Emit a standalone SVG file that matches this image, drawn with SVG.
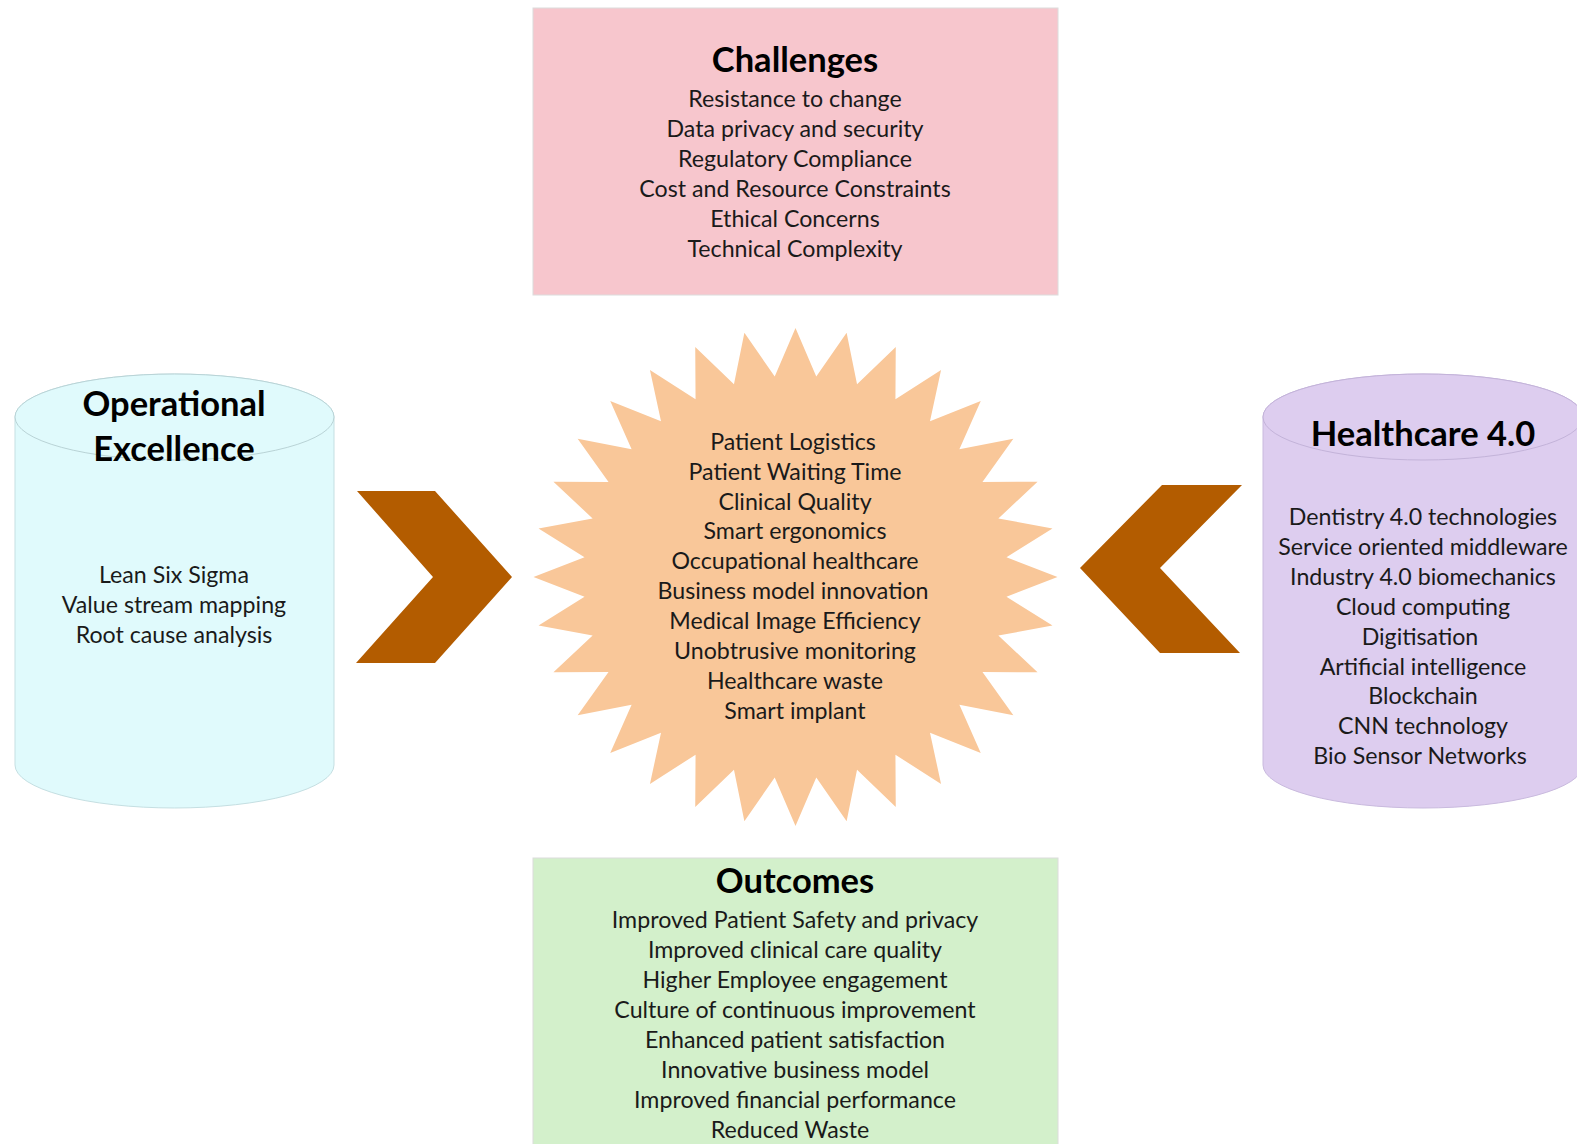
<svg xmlns="http://www.w3.org/2000/svg" width="1577" height="1144" viewBox="0 0 1577 1144">
<style>
.t{font-family:Lato,"Liberation Sans",sans-serif;font-size:23.2px;fill:#1a1a1a;text-anchor:middle}
.h{font-family:Lato,"Liberation Sans",sans-serif;font-size:34.5px;font-weight:bold;fill:#000;text-anchor:middle}
.chev{fill:#b35c00}
</style>
<rect width="1577" height="1144" fill="#ffffff"/>
<g id="challenges">
<rect x="533" y="8" width="525" height="287" fill="#f7c6cd" stroke="#dcdcdc" stroke-width="1"/>
<text class="h" x="795" y="72">Challenges</text>
<text class="t" x="795" y="107">Resistance to change</text>
<text class="t" x="795" y="137">Data privacy and security</text>
<text class="t" x="795" y="167">Regulatory Compliance</text>
<text class="t" x="795" y="197">Cost and Resource Constraints</text>
<text class="t" x="795" y="227">Ethical Concerns</text>
<text class="t" x="795" y="257">Technical Complexity</text>
</g>
<g id="operational-excellence">
<path d="M15 417 V765 A159.5 43 0 0 0 334 765 V417 A159.5 43 0 0 0 15 417 Z" fill="#e0fafc" stroke="#c5dfe2" stroke-width="1"/>
<ellipse cx="174.5" cy="417" rx="159.5" ry="43" fill="#e0fafc" stroke="#b9d3d6" stroke-width="1"/>
<text class="h" x="174" y="416">Operational</text>
<text class="h" x="174" y="461">Excellence</text>
<text class="t" x="174" y="583">Lean Six Sigma</text>
<text class="t" x="174" y="613">Value stream mapping</text>
<text class="t" x="174" y="643">Root cause analysis</text>
</g>
<g id="healthcare-4">
<path d="M1263 417 V765 A160 43 0 0 0 1583 765 V417 A160 43 0 0 0 1263 417 Z" fill="#ddcdef" stroke="#c9bade" stroke-width="1"/>
<ellipse cx="1423" cy="417" rx="160" ry="43" fill="#ddcdef" stroke="#c3b3d9" stroke-width="1"/>
<text class="h" x="1423" y="446">Healthcare 4.0</text>
<text class="t" x="1423" y="525">Dentistry 4.0 technologies</text>
<text class="t" x="1423" y="554.9">Service oriented middleware</text>
<text class="t" x="1423" y="584.8">Industry 4.0 biomechanics</text>
<text class="t" x="1423" y="614.7">Cloud computing</text>
<text class="t" x="1420" y="644.6">Digitisation</text>
<text class="t" x="1423" y="674.5">Artificial intelligence</text>
<text class="t" x="1423" y="704.4">Blockchain</text>
<text class="t" x="1423" y="734.3">CNN technology</text>
<text class="t" x="1420" y="764.2">Bio Sensor Networks</text>
</g>
<g id="focus-areas">
<polygon fill="#f9c799" points="795.5,328 816.28,376.47 846.61,332.78 857.04,384.18 895.76,346.95 895.44,399.29 941.06,369.96 929.99,421.24 980.76,400.93 959.38,449.17 1013.35,438.66 982.47,482.01 1037.56,481.71 998.37,518.51 1052.47,528.42 1006.48,557.25 1057.5,577 1006.48,596.75 1052.47,625.58 998.37,635.49 1037.56,672.29 982.47,671.99 1013.35,715.34 959.38,704.83 980.76,753.07 929.99,732.76 941.06,784.04 895.44,754.71 895.76,807.05 857.04,769.82 846.61,821.22 816.28,777.53 795.5,826 774.72,777.53 744.39,821.22 733.96,769.82 695.24,807.05 695.56,754.71 649.94,784.04 661.01,732.76 610.24,753.07 631.62,704.83 577.65,715.34 608.53,671.99 553.44,672.29 592.63,635.49 538.53,625.58 584.52,596.75 533.5,577 584.52,557.25 538.53,528.42 592.63,518.51 553.44,481.71 608.53,482.01 577.65,438.66 631.62,449.17 610.24,400.93 661.01,421.24 649.94,369.96 695.56,399.29 695.24,346.95 733.96,384.18 744.39,332.78 774.72,376.47"/>
<text class="t" x="793" y="450">Patient Logistics</text>
<text class="t" x="795" y="480">Patient Waiting Time</text>
<text class="t" x="795" y="509.5">Clinical Quality</text>
<text class="t" x="795" y="539">Smart ergonomics</text>
<text class="t" x="795" y="569">Occupational healthcare</text>
<text class="t" x="793" y="599">Business model innovation</text>
<text class="t" x="795" y="629">Medical Image Efficiency</text>
<text class="t" x="795" y="659">Unobtrusive monitoring</text>
<text class="t" x="795" y="689">Healthcare waste</text>
<text class="t" x="795" y="719">Smart implant</text>
</g>
<g id="outcomes">
<rect x="533" y="858" width="525" height="300" fill="#d3f0cb" stroke="#dcdcdc" stroke-width="1"/>
<text class="h" x="795" y="893">Outcomes</text>
<text class="t" x="795" y="928">Improved Patient Safety and privacy</text>
<text class="t" x="795" y="958">Improved clinical care quality</text>
<text class="t" x="795" y="988">Higher Employee engagement</text>
<text class="t" x="795" y="1018">Culture of continuous improvement</text>
<text class="t" x="795" y="1048">Enhanced patient satisfaction</text>
<text class="t" x="795" y="1078">Innovative business model</text>
<text class="t" x="795" y="1108">Improved financial performance</text>
<text class="t" x="790" y="1138">Reduced Waste</text>
</g>
<g id="connectors">
<polygon class="chev" points="357,491 435,491 512,577 435,663 356,663 433,577"/>
<polygon class="chev" points="1242,485 1162,485 1080,568 1160,653 1240,653 1160,568"/>
</g>
</svg>
